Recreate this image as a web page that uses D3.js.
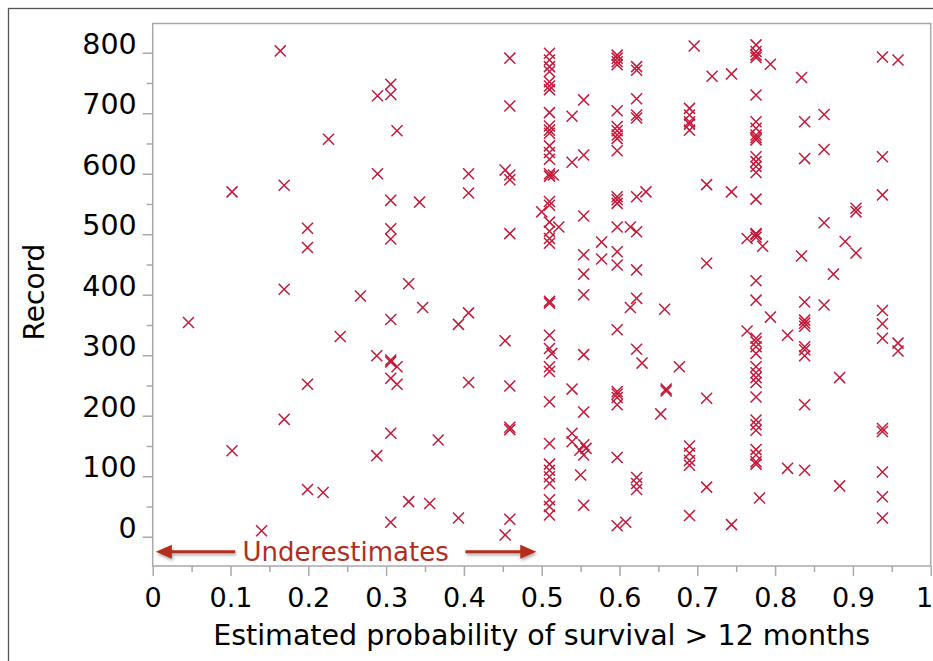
<!DOCTYPE html>
<html>
<head>
<meta charset="utf-8">
<script src="https://cdn.jsdelivr.net/npm/d3@7"></script>
<style>
  body { margin: 0; background: #fff; }
  text { font-family: "DejaVu Sans", sans-serif; }
</style>
</head>
<body>
<script>
const width = 933;
const height = 661;
const margin = { top: 23.5, left: 152.7 };
const plotW = 778;
const plotH = 542.5;
const markColor = "#c41a3b";
const noteColor = "#b32d1e";
const frameColor = "#a9a9a9";

// x ticks / y ticks
const xTicks = [0, 0.1, 0.2, 0.3, 0.4, 0.5, 0.6, 0.7, 0.8, 0.9, 1];
const xTickLabels = ["0", "0.1", "0.2", "0.3", "0.4", "0.5", "0.6", "0.7", "0.8", "0.9", "1"];
const xMinor = [0.05, 0.15, 0.25, 0.35, 0.45, 0.55, 0.65, 0.75, 0.85, 0.95];
const yTicks = [0, 100, 200, 300, 400, 500, 600, 700, 800];
const yMinor = [50, 150, 250, 350, 450, 550, 650, 750];

// records that share one estimated probability (the vertical stacks)
const stackProb = [0.169, 0.199, 0.306, 0.314, 0.406, 0.453, 0.459, 0.51, 0.539, 0.554,
  0.597, 0.622, 0.69, 0.712, 0.744, 0.7755, 0.838, 0.863, 0.904, 0.938, 0.958];
const stackRecords = [
  [581, 409, 194],
  [510, 478, 252, 78],
  [748, 731, 556, 509, 492, 359, 292, 289, 262, 171, 24],
  [671, 281, 252],
  [600, 568, 370, 255],
  [606, 324, 3],
  [791, 712, 598, 590, 501, 249, 181, 177, 29],
  [799, 788, 777, 769, 752, 745, 739, 701, 679, 672, 667, 646, 635, 624, 600, 596, 554, 548,
    520, 505, 493, 485, 389, 386, 333, 311, 281, 273, 223, 154, 120, 110, 99, 88, 61, 50, 36],
  [695, 619, 244, 171, 157],
  [722, 631, 530, 466, 434, 400, 301, 206, 152, 135, 52],
  [796, 791, 785, 780, 704, 678, 671, 664, 658, 638, 562, 557, 551, 512, 471, 449, 342,
    240, 236, 230, 218, 131, 18],
  [777, 771, 724, 697, 692, 562, 504, 441, 394, 310, 98, 88, 78],
  [708, 697, 686, 682, 672, 150, 138, 126, 118, 35],
  [582, 452, 229, 82],
  [765, 570, 20],
  [813, 802, 796, 792, 730, 686, 675, 664, 660, 656, 628, 620, 612, 602, 558, 501, 499, 495,
    423, 391, 328, 322, 314, 303, 281, 271, 263, 255, 231, 193, 185, 176, 144, 135, 124, 120],
  [686, 625, 388, 358, 353, 348, 314, 309, 299, 218, 110],
  [698, 640, 519, 383],
  [543, 537, 469],
  [793, 628, 565, 374, 352, 328, 179, 174, 107, 66, 31],
  [788, 320, 307]
];

// the loose points
const looseProb = [0.164, 0.102, 0.102, 0.046, 0.219, 0.140, 0.226, 0.241, 0.267, 0.289,
  0.289, 0.288, 0.288, 0.329, 0.329, 0.343, 0.347, 0.356, 0.367, 0.393,
  0.393, 0.515, 0.500, 0.522, 0.513, 0.577, 0.577, 0.549, 0.557, 0.550,
  0.608, 0.634, 0.614, 0.614, 0.629, 0.658, 0.653, 0.660, 0.660, 0.677,
  0.696, 0.719, 0.780, 0.764, 0.764, 0.784, 0.794, 0.794, 0.816, 0.816,
  0.834, 0.834, 0.875, 0.883, 0.883, 0.890];
const looseRecord = [803, 570, 142, 354, 73, 10, 657, 331, 398, 729,
  600, 299, 134, 418, 58, 553, 379, 55, 160, 351,
  31, 598, 537, 512, 303, 487, 459, 143, 146, 102,
  24, 570, 512, 379, 287, 376, 203, 244, 241, 281,
  811, 761, 64, 493, 340, 480, 781, 363, 333, 113,
  759, 464, 434, 263, 84, 488];

const points = stackProb
  .flatMap((p, i) => stackRecords[i].map((r) => ({ p, r })))
  .concat(d3.zip(looseProb, looseRecord).map(([p, r]) => ({ p, r })));

const x = d3.scaleLinear().domain([0, 1]).range([0, plotW]);
const y = d3.scaleLinear().domain([-48.4, 848.3]).range([plotH, 0]);

const svg = d3.select("body").append("svg")
  .attr("width", width)
  .attr("height", height);

const defs = svg.append("defs");
defs.append("filter")
  .attr("id", "shadow")
  .attr("x", "-20%").attr("y", "-50%").attr("width", "140%").attr("height", "200%")
  .append("feDropShadow")
  .attr("dx", 1).attr("dy", 2).attr("stdDeviation", 1.5)
  .attr("flood-color", "#000").attr("flood-opacity", 0.35);

// outer box, runs off the right and bottom edges
svg.append("rect")
  .attr("x", 8.5).attr("y", 8.5)
  .attr("width", 1000).attr("height", 1000)
  .attr("fill", "none")
  .attr("stroke", "#555")
  .attr("stroke-width", 1.3);

const g = svg.append("g")
  .attr("transform", `translate(${margin.left},${margin.top})`);

function styleAxis(sel) {
  sel.select(".domain").remove();
  sel.selectAll(".tick line").attr("stroke", frameColor).attr("stroke-width", 1.5);
}

g.append("g")
  .attr("transform", `translate(0,${plotH})`)
  .call(d3.axisBottom(x).tickValues(xMinor).tickSize(6).tickFormat(""))
  .call(styleAxis);

g.append("g")
  .attr("transform", `translate(0,${plotH})`)
  .call(d3.axisBottom(x).tickValues(xTicks).tickSize(10)
    .tickFormat((d, i) => xTickLabels[i]))
  .call(styleAxis)
  .call((ax) => ax.selectAll("text")
    .attr("y", 41).attr("dy", null)
    .attr("fill", "#000")
    .style("font-size", "27px")
    .style("font-family", "DejaVu Sans"))
  // last label sits on the page edge, keep it inside
  .call((ax) => ax.selectAll("text").filter((d) => d === 1)
    .attr("text-anchor", "end")
    .attr("dx", 2));

g.append("g")
  .call(d3.axisLeft(y).tickValues(yMinor).tickSize(6).tickFormat(""))
  .call(styleAxis);

g.append("g")
  .call(d3.axisLeft(y).tickValues(yTicks).tickSize(10).tickPadding(6))
  .call(styleAxis)
  .call((ax) => ax.selectAll("text")
    .attr("dy", "0.02em")
    .attr("fill", "#000")
    .style("font-size", "28.5px")
    .style("font-family", "DejaVu Sans"));

g.append("rect")
  .attr("width", plotW)
  .attr("height", plotH)
  .attr("fill", "none")
  .attr("stroke", frameColor)
  .attr("stroke-width", 1.5);

// "x" markers, about 11px across
const timesShape = d3.symbolTimes || {
  draw(ctx, size) {
    const r = Math.sqrt(size - Math.min(size / 6, 1.7)) * 0.6189;
    ctx.moveTo(-r, -r); ctx.lineTo(r, r);
    ctx.moveTo(-r, r); ctx.lineTo(r, -r);
  }
};
const marker = d3.symbol(timesShape, 81)();

g.append("g")
  .selectAll("path")
  .data(points)
  .enter()
  .append("path")
  .attr("d", marker)
  .attr("transform", (d) => `translate(${x(d.p)},${y(d.r)})`)
  .attr("fill", "none")
  .attr("stroke", markColor)
  .attr("stroke-width", 1.5);

// Underestimates annotation
const noteY = y(-25);
const note = g.append("g").attr("filter", "url(#shadow)");

function addArrow(from, to) {
  const x0 = x(from);
  const x1 = x(to);
  const dir = x1 > x0 ? 1 : -1;
  const headLen = 16;
  note.append("line")
    .attr("x1", x0).attr("y1", noteY)
    .attr("x2", x1 - dir * headLen + dir).attr("y2", noteY)
    .attr("stroke", noteColor)
    .attr("stroke-width", 3);
  note.append("path")
    .attr("d", `M${x1},${noteY}L${x1 - dir * headLen},${noteY - 7}L${x1 - dir * headLen},${noteY + 7}Z`)
    .attr("fill", noteColor);
}
addArrow(0.106, 0.004);
addArrow(0.402, 0.493);

g.append("text")
  .attr("x", x(0.248))
  .attr("y", noteY)
  .attr("dy", "0.36em")
  .attr("text-anchor", "middle")
  .attr("fill", noteColor)
  .style("font-size", "26px")
  .text("Underestimates");

// axis titles
svg.append("text")
  .attr("x", margin.left + plotW / 2)
  .attr("y", 645)
  .attr("text-anchor", "middle")
  .attr("fill", "#000")
  .style("font-size", "28.5px")
  .text("Estimated probability of survival > 12 months");

svg.append("text")
  .attr("transform", "translate(43.5,292) rotate(-90)")
  .attr("text-anchor", "middle")
  .attr("fill", "#000")
  .style("font-size", "28px")
  .text("Record");
</script>
</body>
</html>
